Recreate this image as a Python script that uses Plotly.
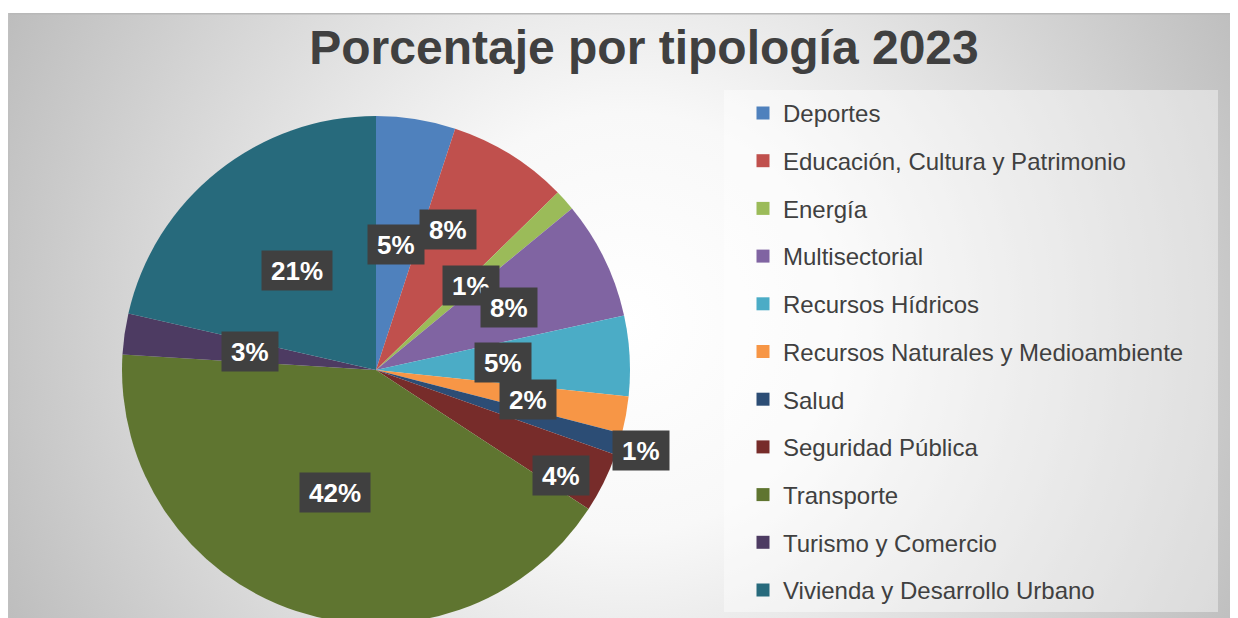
import math
import base64
import plotly.graph_objects as go

# ---------------- data ----------------
categories = [
    "Deportes",
    "Educación, Cultura y Patrimonio",
    "Energía",
    "Multisectorial",
    "Recursos Hídricos",
    "Recursos Naturales y Medioambiente",
    "Salud",
    "Seguridad Pública",
    "Transporte",
    "Turismo y Comercio",
    "Vivienda y Desarrollo Urbano",
]
values = [5.04, 7.64, 1.33, 7.52, 5.10, 2.35, 1.40, 3.80, 41.70, 2.60, 21.40]
colors = ["#4F81BD", "#C0504D", "#9BBB59", "#8064A2", "#4BACC6", "#F79646",
          "#2C4D75", "#772C2A", "#5F7530", "#4D3B62", "#276A7C"]
title_text = "Porcentaje por tipología 2023"

# ---------------- layout constants ----------------
W, H = 1230, 618
FONT = "Arial, 'Liberation Sans', sans-serif"
cx, cy, R = 368, 362, 254  # pie centre / radius in figure pixels
# label placement (radius fraction, angular nudge in degrees)
label_r = [0.50, 0.62, 0.50, 0.58, 0.50, 0.61, 1.09, 0.84, 0.51, 0.50, 0.50]
label_da = [0, -4.8, 0, 0.8, 0, 0.6, 0, 3.4, 0, 0, 0]

total = sum(values)
labels_txt = [f"{round(v / total * 100)}%" for v in values]

fig = go.Figure()

fig.add_trace(go.Pie(
    labels=categories,
    values=values,
    sort=False,
    direction="clockwise",
    rotation=0,
    marker=dict(colors=colors, line=dict(width=0)),
    textinfo="none",
    hoverinfo="label+percent",
    showlegend=False,
    domain=dict(x=[(cx - R) / W, (cx + R) / W],
                y=[1 - (cy + R) / H, 1 - (cy - R) / H]),
))

# legend entries (one per category)
for name, col in zip(categories, colors):
    fig.add_trace(go.Scatter(
        x=[None], y=[None], mode="markers", name=name, legendgroup=name,
        marker=dict(symbol="square", size=13, color=col),
        showlegend=True, hoverinfo="skip",
    ))

# data labels
annotations = []
cum = 0.0
for v, t, rf, da in zip(values, labels_txt, label_r, label_da):
    mid = (cum + v / 2) / total * 360 + da
    cum += v
    px = cx + rf * R * math.sin(math.radians(mid))
    py = cy - rf * R * math.cos(math.radians(mid))
    ndig = len(t) - 1
    bw = 26 * (0.556 * ndig + 0.889) + 16
    annotations.append(dict(
        x=px / W, y=1 - py / H, xref="paper", yref="paper",
        text=f"<b>{t}</b>", showarrow=False,
        font=dict(family=FONT, size=26, color="white"),
        bgcolor="#404040", borderpad=1, width=bw, height=37,
        xanchor="center", yanchor="middle",
    ))

# background radial gradient
svg = (
    f'<svg xmlns="http://www.w3.org/2000/svg" width="{W}" height="613" '
    f'viewBox="0 0 {W} 613" preserveAspectRatio="none">'
    '<defs><radialGradient id="g" gradientUnits="userSpaceOnUse" cx="620" cy="310" r="700">'
    '<stop offset="0" stop-color="#ffffff"/><stop offset="0.3" stop-color="#f8f8f8"/>'
    '<stop offset="1" stop-color="#bcbcbc"/></radialGradient></defs>'
    f'<rect width="{W}" height="613" fill="url(#g)"/>'
    f'<rect x="0" y="0" width="{W}" height="1.5" fill="#b8b8b8"/>'
    '<rect x="0" y="0" width="1.5" height="613" fill="#c0c0c0"/>'
    '</svg>'
)
bg_src = "data:image/svg+xml;base64," + base64.b64encode(svg.encode()).decode()

fig.update_layout(
    width=W, height=H,
    margin=dict(l=0, r=0, t=0, b=0),
    paper_bgcolor="white",
    plot_bgcolor="rgba(0,0,0,0)",
    xaxis=dict(visible=False), yaxis=dict(visible=False),
    title=dict(text=f"<b>{title_text}</b>", x=636 / W, y=1 - 39 / H,
               xanchor="center", yanchor="middle",
               font=dict(family=FONT, size=48, color="#404040")),
    legend=dict(x=735 / W, y=1 - 82.9 / H, xanchor="left", yanchor="top",
                bgcolor="rgba(0,0,0,0)", tracegroupgap=13.5,
                font=dict(family=FONT, size=24, color="#404040")),
    images=[dict(source=bg_src, xref="paper", yref="paper", x=0, y=1 - 5 / H,
                 sizex=1, sizey=613 / H, sizing="stretch", layer="below",
                 xanchor="left", yanchor="top")],
    shapes=[dict(type="rect", xref="paper", yref="paper",
                 x0=716 / W, x1=1210 / W, y0=1 - 604 / H, y1=1 - 82 / H,
                 fillcolor="rgba(255,255,255,0.42)", line=dict(width=0),
                 layer="below")],
    annotations=annotations,
    hovermode="closest",
)

fig.write_html("out.html")
